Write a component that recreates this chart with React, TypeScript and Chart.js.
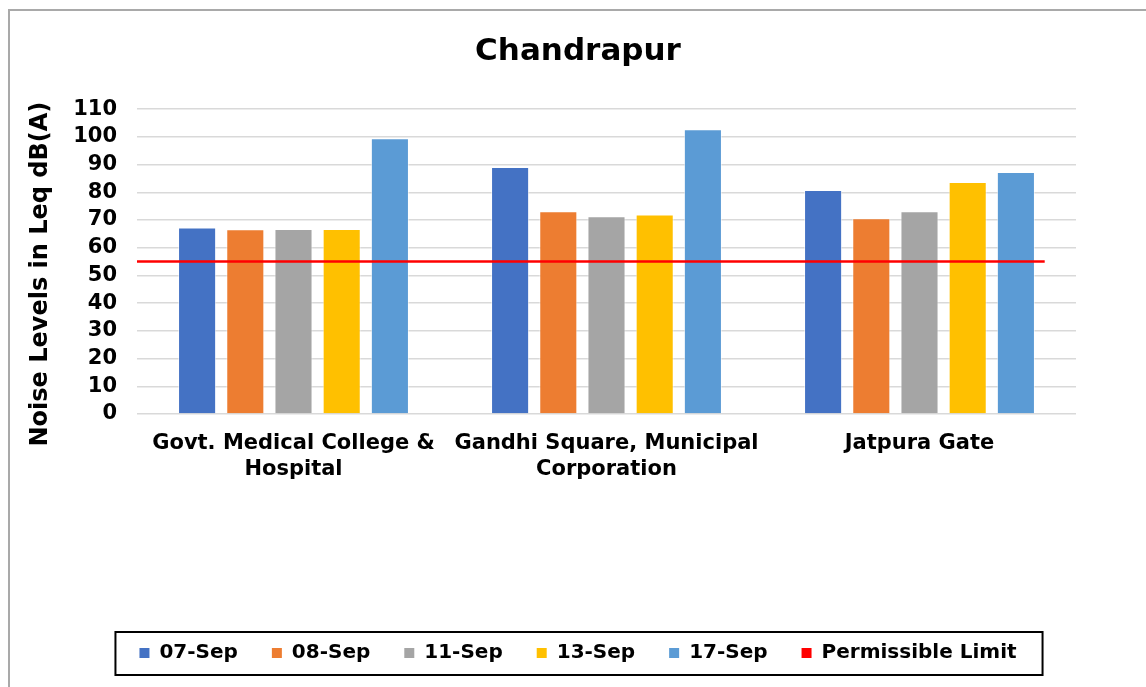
import React, { useEffect, useRef } from "react";
import { Chart, registerables } from "chart.js";

Chart.register(...registerables);

const chartTitle = "Chandrapur";
const yAxisTitle = "Noise Levels in Leq dB(A)";
const categories: (string | string[])[] = [
  ["Govt. Medical College &", "Hospital"],
  ["Gandhi Square, Municipal", "Corporation"],
  "Jatpura Gate",
];
const seriesLabels = ["07-Sep", "08-Sep", "11-Sep", "13-Sep", "17-Sep"];
const seriesColors = ["#4472C4", "#ED7D31", "#A5A5A5", "#FFC000", "#5B9BD5"];
const sep07 = [67.3, 89.1, 80.8];
const sep08 = [66.7, 73.2, 70.6];
const sep11 = [66.8, 71.4, 73.2];
const sep13 = [66.8, 72, 83.7];
const sep17 = [99.5, 102.8, 87.3];
const seriesValues = [sep07, sep08, sep11, sep13, sep17];
const limitLabel = "Permissible Limit";
const limitColor = "#FF0000";
const limitValue = 55;
// start / end of the limit line, in category-index units
const limitSpan = [-0.5, 2.4];
const yTicksMin = 0;
const yTicksMax = 110;
const yTicksStep = 10;

const FONT = "'DejaVu Sans', Verdana, sans-serif";

const legendFramePlugin = {
  id: "legendFrame",
  afterDraw(chart: any) {
    const lg = chart.legend;
    if (!lg || !lg.legendHitBoxes || !lg.legendHitBoxes.length) return;
    const hb = lg.legendHitBoxes;
    const left = Math.min(...hb.map((b: any) => b.left)) - 24;
    const right = Math.max(...hb.map((b: any) => b.left + b.width)) + 26;
    const cy = hb[0].top + hb[0].height / 2;
    const ctx = chart.ctx;
    ctx.save();
    ctx.strokeStyle = "#000";
    ctx.lineWidth = 2;
    ctx.strokeRect(left, cy - 21, right - left, 43);
    ctx.restore();
  },
};

export default function App() {
  const ref = useRef<HTMLCanvasElement | null>(null);
  useEffect(() => {
    if (!ref.current) return;
    const datasets: any[] = [
      ...seriesLabels.map((label, i) => ({
        type: "bar",
        label,
        data: seriesValues[i],
        backgroundColor: seriesColors[i],
        borderColor: "rgba(255,255,255,0.55)",
        borderWidth: 1,
        categoryPercentage: 0.77,
        barPercentage: 0.79,
        order: 1,
        legendColor: seriesColors[i],
      })),
      {
        type: "line",
        label: limitLabel,
        parsing: false,
        data: limitSpan.map((x) => ({ x, y: limitValue })),
        borderColor: limitColor,
        backgroundColor: limitColor,
        borderWidth: 2.5,
        pointRadius: 0,
        order: 0,
        legendColor: limitColor,
      },
    ];
    const chart = new Chart(ref.current, {
      type: "bar",
      data: { labels: categories as any, datasets },
      plugins: [legendFramePlugin],
      options: {
        responsive: false,
        animation: false,
        layout: { padding: { left: 0, right: 0, top: 0, bottom: 38 } },
        plugins: {
          tooltip: { enabled: false },
          title: {
            display: true,
            text: chartTitle,
            color: "#000",
            font: { family: FONT, size: 31, weight: "bold" },
            padding: { top: 22, bottom: 39 },
          },
          legend: {
            position: "bottom",
            labels: {
              color: "#000",
              font: { family: FONT, size: 20, weight: "bold" },
              boxWidth: 10,
              boxHeight: 10,
              padding: 34,
              generateLabels: (c: any) =>
                c.data.datasets.map((ds: any, i: number) => ({
                  text: ds.label,
                  fillStyle: ds.legendColor,
                  strokeStyle: ds.legendColor,
                  lineWidth: 0,
                  hidden: false,
                  datasetIndex: i,
                  fontColor: "#000",
                })),
            },
          },
        },
        scales: {
          x: {
            type: "category",
            grid: { display: false, drawTicks: false },
            border: { display: false },
            ticks: {
              color: "#000",
              font: { family: FONT, size: 21, weight: "bold", lineHeight: 1.25 },
              padding: 16,
              maxRotation: 0,
              autoSkip: false,
            },
            afterFit: (s: any) => {
              s.height = 195;
            },
          },
          y: {
            min: yTicksMin,
            max: yTicksMax,
            ticks: {
              stepSize: yTicksStep,
              autoSkip: false,
              color: "#000",
              font: { family: FONT, size: 21, weight: "bold", lineHeight: 1 },
              padding: 20,
            },
            grid: { color: "#d9d9d9", lineWidth: 1.5, drawTicks: false },
            border: { display: false },
            title: {
              display: true,
              text: yAxisTitle + "   ",
              color: "#000",
              font: { family: FONT, size: 24, weight: "bold" },
              padding: { top: 16, bottom: 0 },
            },
            afterFit: (s: any) => {
              s.width = 127;
            },
          },
          yRight: {
            type: "linear",
            position: "right",
            display: true,
            ticks: { display: false },
            grid: { display: false, drawTicks: false },
            border: { display: false },
            afterFit: (s: any) => {
              s.width = 70;
            },
          },
        },
      } as any,
    });
    return () => chart.destroy();
  }, []);
  return (
    <div
      style={{
        position: "fixed",
        left: 8,
        top: 9,
        width: 1160,
        height: 720,
        borderLeft: "2px solid #a9a9a9",
        borderTop: "2px solid #a9a9a9",
        background: "#fff",
      }}
    >
      <canvas ref={ref} width={1136} height={700} style={{ display: "block" }} />
    </div>
  );
}
